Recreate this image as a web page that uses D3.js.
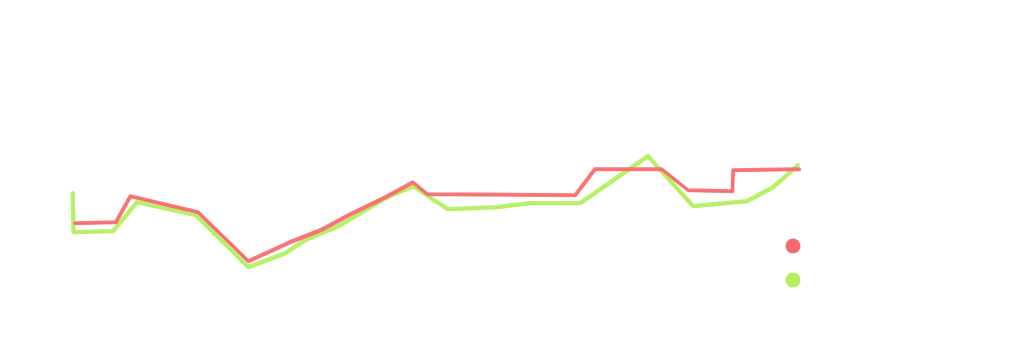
<!DOCTYPE html>
<html><head><meta charset="utf-8">
<script src="https://cdn.jsdelivr.net/npm/d3@7"></script>
<style>html,body{margin:0;padding:0;background:#fff;}svg{display:block;}</style>
</head><body>
<svg id="chart" width="1024" height="340"></svg>
<script>
const seriesNames = ["A", "B"];
const seriesColors = ["#f8696b", "#b3ef5e"];
const redX = [0.4, 6.0, 8.0, 17.3, 24.2, 29.9, 34.1, 38.2, 43.0, 46.8, 48.8, 69.1, 71.8, 81.0, 84.6, 90.7, 90.8, 99.9];
const redY = [38.5, 39, 52, 44, 19.5, 29, 35, 43, 51.5, 59, 53, 52.5, 65.5, 65.5, 55, 54.5, 65, 65.5];
const greenX = [0.1, 0.2, 5.6, 8.9, 17.0, 24.2, 29.3, 32.0, 36.8, 39.6, 43.0, 46.8, 51.6, 58.4, 62.9, 69.8, 79.1, 85.3, 92.7, 96.3, 99.7];
const greenY = [53.5, 34, 34.5, 49, 42.5, 16.5, 23.5, 30, 37.5, 43.5, 51, 57, 45.5, 46.5, 48.5, 48.5, 72, 47, 49.5, 56.5, 67.5];

const svg = d3.select("#chart");
const x = d3.scaleLinear().domain([0, 100]).range([72, 800]);
const y = d3.scaleLinear().domain([0, 100]).range([300, 100]);
const line = d3.line().x(d => x(d[0])).y(d => y(d[1]));

const data = [
  d3.zip(redX, redY),
  d3.zip(greenX, greenY)
];
const widths = [3.5, 4.2];
[1, 0].forEach(i => {
  const g = svg.append("g");
  g.append("path").datum(data[i]).attr("d", line)
    .attr("fill", "none").attr("stroke", seriesColors[i])
    .attr("stroke-width", widths[i]).attr("stroke-linejoin", "round").attr("stroke-linecap", "round")
    .attr("stroke-opacity", 0.9);
  g.append("path").datum(data[i]).attr("d", line)
    .attr("transform", "translate(0.8,1.2)")
    .attr("fill", "none").attr("stroke", seriesColors[i])
    .attr("stroke-width", 2.2).attr("stroke-linejoin", "round").attr("stroke-linecap", "round")
    .attr("stroke-opacity", 0.7);
});

const legend = svg.append("g").attr("transform", "translate(793,246)");
seriesNames.forEach((n, i) => {
  legend.append("circle").attr("cx", 0).attr("cy", i * 34).attr("r", 7.5)
    .attr("fill", seriesColors[i]);
});
</script>
</body></html>
